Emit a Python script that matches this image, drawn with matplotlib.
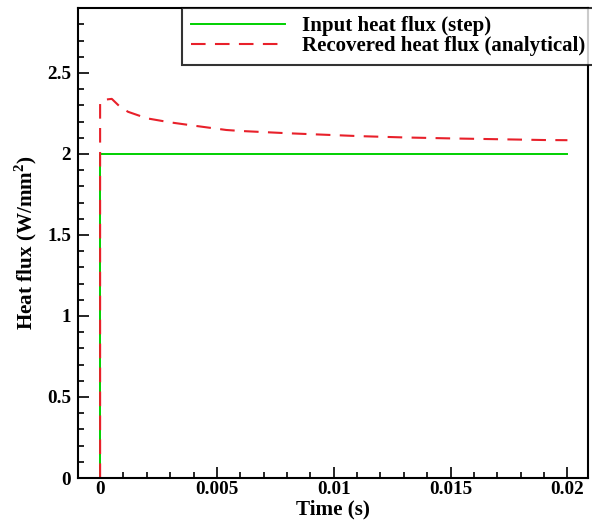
import matplotlib
matplotlib.use("Agg")
import matplotlib.pyplot as plt
from matplotlib.ticker import MultipleLocator

plt.rcParams['font.family'] = ['Liberation Serif', 'DejaVu Serif']
plt.rcParams['font.weight'] = 'bold'
plt.rcParams['mathtext.fontset'] = 'custom'
plt.rcParams['mathtext.bf'] = 'Liberation Serif:bold'

# input step heat flux
t_in = [0.0, 0.0, 0.02]
q_in = [0.0, 2.0, 2.0]

# recovered heat flux (analytical)
t_rec = [0.0, 0.0, 0.0002, 0.0005, 0.00086, 0.0012, 0.0016, 0.002, 0.003, 0.004,
         0.0054, 0.006, 0.008, 0.0111, 0.013, 0.015, 0.019, 0.02]
q_rec = [0.0, 2.32, 2.335, 2.34, 2.29, 2.26, 2.24, 2.22, 2.195, 2.175,
         2.148, 2.142, 2.128, 2.11, 2.102, 2.096, 2.086, 2.085]

fig = plt.figure(figsize=(5.92, 5.25), dpi=100)
ax = fig.add_axes([0.132, 0.0895, 0.862, 0.895])

ax.plot(t_in, q_in, color='#00d000', lw=1.4, label='Input heat flux (step)')
ax.plot(t_rec, q_rec, color='#e8202a', lw=1.5, dashes=(7, 4.5),
        label='Recovered heat flux (analytical)')

ax.set_xlim(-0.00094, 0.0209)
ax.set_ylim(0, 2.9)
ax.xaxis.set_minor_locator(MultipleLocator(0.001))
ax.yaxis.set_minor_locator(MultipleLocator(0.1))
ax.set_xticks([0, 0.005, 0.01, 0.015, 0.02])
ax.set_xticklabels(['0', '0.005', '0.01', '0.015', '0.02'])
ax.set_yticks([0, 0.5, 1, 1.5, 2, 2.5])
ax.set_yticklabels(['0', '0.5', '1', '1.5', '2', '2.5'])

ax.tick_params(which='both', direction='in', top=False, right=False, labelsize=13.8, width=1.2)
ax.tick_params(which='major', length=8)
ax.tick_params(axis='x', which='major', pad=2)
ax.tick_params(axis='y', which='major', pad=5)
ax.tick_params(which='minor', length=4)
for s in ax.spines.values():
    s.set_linewidth(1.5)

ax.set_xlabel('Time (s)', fontsize=15.2, fontweight='bold', labelpad=1)
ax.set_ylabel('Heat flux (W/mm$^\\mathbf{2}$)', fontsize=15.2, fontweight='bold', labelpad=6)

leg = ax.legend(loc='upper right', bbox_to_anchor=(1.01, 1.0), prop={'weight': 'bold', 'size': 15},
                frameon=True, fancybox=False, edgecolor='black', borderpad=0.4,
                handlelength=4.55, handletextpad=0.8, labelspacing=0.0, borderaxespad=0)
leg.get_frame().set_linewidth(1.5)

fig.savefig('out.png', dpi=100)
